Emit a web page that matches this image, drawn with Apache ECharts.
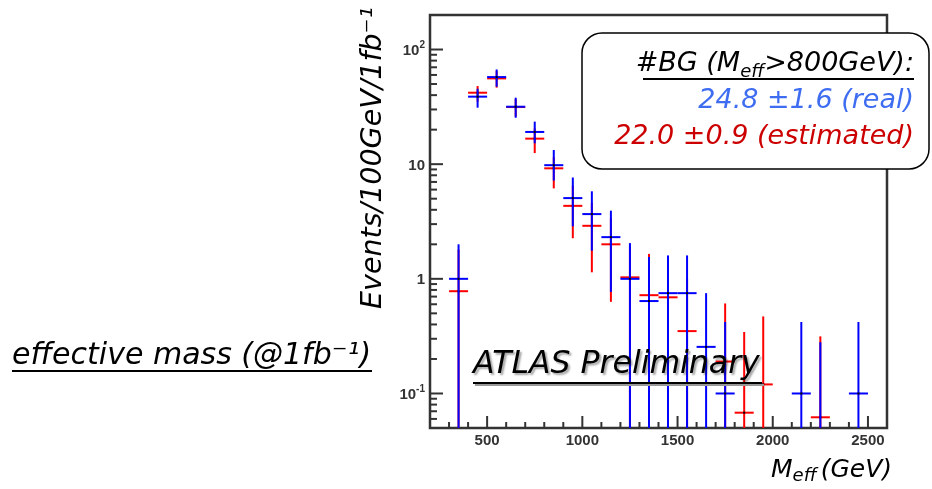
<!DOCTYPE html>
<html>
<head>
<meta charset="utf-8">
<script src="https://cdn.jsdelivr.net/npm/echarts@6/dist/echarts.min.js"></script>
<style>
  html, body { margin: 0; padding: 0; background: #fff; }
  #chart { width: 932px; height: 489px; }
</style>
</head>
<body>
<div id="chart"></div>
<script>
// bin centres (100 GeV bins)
var binCenters = [350, 450, 550, 650, 750, 850, 950, 1050, 1150, 1250, 1350,
                  1450, 1550, 1650, 1750, 1850, 1950, 2050, 2150, 2250, 2350, 2450];

// real background (blue); low 0 means the bar runs down to the axis
var realVal  = [1.0, 38.8, 57.5, 31.7, 19.1, 9.8, 5.06, 3.67, 2.31, 1.0, 0.64,
                0.75, 0.75, 0.255, 0.1, null, null, null, 0.1, 0.03, null, 0.1];
var realHigh = [2.0, 45.5, 67, 38, 23.5, 13.3, 7.65, 5.8, 3.93, 2.05, 1.55,
                1.6, 1.6, 0.75, 0.42, null, null, null, 0.42, 0.28, null, 0.42];
var realLow  = [0, 31.1, 47.4, 25.4, 15.2, 7.2, 2.87, 1.76, 0.77, 0, 0,
                0, 0, 0, 0, null, null, null, 0, 0, null, 0];

// estimated background (red)
var estVal  = [0.78, 42, 56, 31.5, 16.7, 9.2, 4.33, 2.9, 2.0, 1.03, 0.72,
               0.69, 0.35, null, 0.19, 0.068, 0.12, null, null, 0.062, null, null];
var estHigh = [1.8, 48, 65, 37, 20.5, 11.5, 6.5, 4.6, 3.4, 1.9, 1.65,
               1.5, 1.0, null, 0.61, 0.344, 0.47, null, null, 0.315, null, null];
var estLow  = [0, 35, 46.5, 26, 12.5, 6.15, 2.26, 1.14, 0.63, 0, 0,
               0, 0, null, 0, 0, 0, null, null, 0, null, null];

// axis ticks
var xMajorTicks = [500, 1000, 1500, 2000, 2500];
var xMinorTicks = [300, 400, 600, 700, 800, 900, 1100, 1200, 1300, 1400, 1600, 1700,
                   1800, 1900, 2100, 2200, 2300, 2400, 2600];
var yMajorTicks = [0.1, 1, 10, 100];
var yMinorTicks = [0.06, 0.07, 0.08, 0.09, 0.2, 0.3, 0.4, 0.5, 0.6, 0.7, 0.8, 0.9,
                   2, 3, 4, 5, 6, 7, 8, 9, 20, 30, 40, 50, 60, 70, 80, 90, 200];
var yTickLabels = { '0.1': '{b|10}{s|-1}', '1': '{b|1}', '10': '{b|10}', '100': '{b|10}{s|2}' };

var xMin = 200, xMax = 2600, yMin = 0.05, yMax = 200, binHalf = 50;
var FONT = '"DejaVu Sans", sans-serif';
var AXFONT = '"Liberation Sans", Arial, sans-serif';

var chart = echarts.init(document.getElementById('chart'));

function errData(vals, lows, highs) {
    var out = [];
    for (var i = 0; i < binCenters.length; i++) {
        if (vals[i] == null) continue;
        out.push([binCenters[i], vals[i], lows[i], highs[i]]);
    }
    return out;
}

function errRender(color) {
    return function (params, api) {
        var x = api.value(0), v = api.value(1), lo = api.value(2), hi = api.value(3);
        var c = api.coord([x, v]);
        var l = api.coord([x - binHalf, v]);
        var r = api.coord([x + binHalf, v]);
        var t = api.coord([x, hi]);
        var b = api.coord([x, lo > 0 ? lo : yMin]);
        var st = { stroke: color, lineWidth: 2 };
        return {
            type: 'group',
            children: [
                { type: 'line', shape: { x1: c[0], y1: t[1], x2: c[0], y2: b[1] }, style: st },
                { type: 'line', shape: { x1: l[0], y1: c[1], x2: r[0], y2: c[1] }, style: st },
                { type: 'rect', shape: { x: c[0] - 1, y: c[1] - 1, width: 2, height: 2 }, style: { fill: '#000' } }
            ]
        };
    };
}

function tickData(list, len, axis) {
    return list.map(function (v) {
        return axis === 'x' ? [v, yMin, len] : [xMin, v, len];
    });
}

function tickRender(axis) {
    return function (params, api) {
        var p = api.coord([api.value(0), api.value(1)]);
        var len = api.value(2);
        var shape = axis === 'x'
            ? { x1: p[0], y1: p[1], x2: p[0], y2: p[1] - len }
            : { x1: p[0], y1: p[1], x2: p[0] + len, y2: p[1] };
        return { type: 'line', shape: shape, style: { stroke: '#333', lineWidth: 2 } };
    };
}

var option = {
    animation: false,
    grid: {
        left: 430, top: 15, width: 457, height: 413,
        show: true, borderColor: '#333', borderWidth: 2.5
    },
    xAxis: {
        type: 'value', min: xMin, max: xMax, interval: 100,
        axisLine: { show: false }, axisTick: { show: false }, splitLine: { show: false },
        axisLabel: {
            margin: 5, color: '#333', fontWeight: 'bold', fontSize: 15, fontFamily: AXFONT,
            formatter: function (v) { return v % 500 === 0 && v >= 500 && v <= 2500 ? String(v) : ''; }
        }
    },
    yAxis: {
        type: 'log', logBase: 10, min: yMin, max: yMax,
        axisLine: { show: false }, axisTick: { show: false }, splitLine: { show: false },
        axisLabel: {
            margin: 5, color: '#333',
            formatter: function (v) {
                for (var k in yTickLabels) {
                    if (Math.abs(v - Number(k)) < 1e-6 * Number(k)) return yTickLabels[k];
                }
                return '';
            },
            rich: {
                b: { fontFamily: AXFONT, fontWeight: 'bold', fontSize: 15, color: '#333', lineHeight: 18, verticalAlign: 'bottom' },
                s: { fontFamily: AXFONT, fontWeight: 'bold', fontSize: 10, color: '#333', lineHeight: 10, verticalAlign: 'top' }
            }
        }
    },
    series: [
        { type: 'custom', name: 'xMajor', renderItem: tickRender('x'), data: tickData(xMajorTicks, 12, 'x'), silent: true, z: 5 },
        { type: 'custom', name: 'xMinor', renderItem: tickRender('x'), data: tickData(xMinorTicks, 6, 'x'), silent: true, z: 5 },
        { type: 'custom', name: 'yMajor', renderItem: tickRender('y'), data: tickData(yMajorTicks, 13, 'y'), silent: true, z: 5 },
        { type: 'custom', name: 'yMinor', renderItem: tickRender('y'), data: tickData(yMinorTicks, 7, 'y'), silent: true, z: 5 },
        { type: 'custom', name: 'estimated', renderItem: errRender('#ff0000'), data: errData(estVal, estLow, estHigh), clip: true, z: 3 },
        { type: 'custom', name: 'real', renderItem: errRender('#0000ff'), data: errData(realVal, realLow, realHigh), clip: true, z: 4 }
    ],
    graphic: [
        // left slide caption
        {
            type: 'text', x: 12, y: 356, z: 50,
            style: { text: 'effective mass (@1fb\u207B\u00B9)', fontFamily: FONT, fontStyle: 'italic', fontSize: 30, fill: '#000', align: 'left', verticalAlign: 'middle' }
        },
        { type: 'line', z: 50, shape: { x1: 12, y1: 371, x2: 372, y2: 371 }, style: { stroke: '#000', lineWidth: 2 } },
        // ATLAS Preliminary
        {
            type: 'text', x: 473, y: 365, z: 50,
            style: {
                text: 'ATLAS Preliminary', fontFamily: FONT, fontStyle: 'italic', fontSize: 31.5, fill: '#000',
                align: 'left', verticalAlign: 'middle',
                textShadowColor: 'rgba(0,0,0,0.35)', textShadowOffsetX: 2, textShadowOffsetY: 2, textShadowBlur: 2
            }
        },
        { type: 'line', z: 49, shape: { x1: 475, y1: 385, x2: 764, y2: 385 }, style: { stroke: '#999', lineWidth: 2 } },
        { type: 'line', z: 50, shape: { x1: 473, y1: 383, x2: 762, y2: 383 }, style: { stroke: '#000', lineWidth: 2 } },
        // y axis title
        {
            type: 'text', x: 374, y: 7, rotation: Math.PI / 2, z: 50,
            style: { text: 'Events/100GeV/1fb\u207B\u00B9', fontFamily: FONT, fontStyle: 'italic', fontSize: 28.5, fill: '#000', align: 'right', verticalAlign: 'middle' }
        },
        // x axis title
        {
            type: 'text', x: 892, y: 470, z: 50,
            style: {
                text: '{n|M}{s|eff}{n|(GeV)}', align: 'right', verticalAlign: 'middle',
                rich: {
                    n: { fontFamily: FONT, fontStyle: 'italic', fontSize: 25, fill: '#000', lineHeight: 30 },
                    s: { fontFamily: FONT, fontStyle: 'italic', fontSize: 18, fill: '#000', lineHeight: 14, verticalAlign: 'bottom', padding: [0, 4, 0, 0] }
                }
            }
        },
        // summary box
        {
            type: 'rect', z: 60, shape: { x: 582, y: 33, width: 347, height: 136, r: 20 },
            style: { fill: '#fff', stroke: '#000', lineWidth: 1.5 }
        },
        {
            type: 'text', x: 914, y: 64, z: 61,
            style: {
                text: '{n|#BG (M}{s|eff}{n|>800GeV):}', align: 'right', verticalAlign: 'middle',
                rich: {
                    n: { fontFamily: FONT, fontStyle: 'italic', fontSize: 27, fill: '#000', lineHeight: 34 },
                    s: { fontFamily: FONT, fontStyle: 'italic', fontSize: 18, fill: '#000', lineHeight: 16, verticalAlign: 'bottom' }
                }
            }
        },
        { type: 'line', z: 61, shape: { x1: 643, y1: 79, x2: 914, y2: 79 }, style: { stroke: '#000', lineWidth: 2 } },
        {
            type: 'text', x: 914, y: 101, z: 61,
            style: { text: '24.8 \u00B11.6 (real)', fontFamily: FONT, fontStyle: 'italic', fontSize: 27, fill: '#3f6df2', align: 'right', verticalAlign: 'middle' }
        },
        {
            type: 'text', x: 914, y: 137, z: 61,
            style: { text: '22.0 \u00B10.9 (estimated)', fontFamily: FONT, fontStyle: 'italic', fontSize: 27, fill: '#cc0000', align: 'right', verticalAlign: 'middle' }
        }
    ]
};

chart.setOption(option);
</script>
</body>
</html>
